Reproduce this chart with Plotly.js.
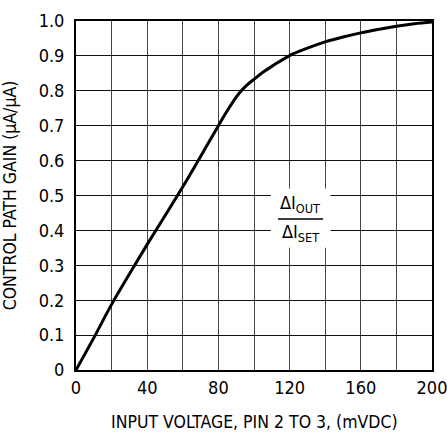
<!DOCTYPE html>
<html>
<head>
<meta charset="utf-8">
<script src="https://cdn.plot.ly/plotly-3.0.1.min.js"></script>
<style>html,body{margin:0;padding:0;background:#fff;}#chart{width:447px;height:433px;}</style>
</head>
<body>
<div id="chart"></div>
<script>
const inputVoltage = [0, 10, 20, 30, 40, 50, 60, 70, 80, 84, 88, 92, 96, 100, 105, 110, 120, 130, 140, 150, 160, 170, 180, 190, 200];
const controlGain = [0, 0.092, 0.188, 0.275, 0.36, 0.442, 0.525, 0.612, 0.70, 0.735, 0.767, 0.795, 0.816, 0.833, 0.853, 0.870, 0.901, 0.922, 0.94, 0.954, 0.966, 0.976, 0.985, 0.992, 0.997];
const xTickVals = [0, 40, 80, 120, 160, 200];
const yTickVals = [0, 0.1, 0.2, 0.3, 0.4, 0.5, 0.6, 0.7, 0.8, 0.9, 1.0];
const yTickText = ['0', '0.1', '0.2', '0.3', '0.4', '0.5', '0.6', '0.7', '0.8', '0.9', '1.0'];
const xTitle = 'INPUT VOLTAGE, PIN 2 TO 3, (mVDC)';
const yTitle = 'CONTROL PATH GAIN (µA/µA)';

const FONT = '"DejaVu Sans Condensed", "Liberation Sans Narrow", "Arial Narrow", "Liberation Sans", sans-serif';

const trace = {
  x: inputVoltage, y: controlGain, type: 'scatter', mode: 'lines',
  line: {color: '#000', width: 3, shape: 'spline', smoothing: 1},
  hoverinfo: 'skip'
};

const layout = {
  width: 447, height: 433,
  margin: {l: 76, r: 15, t: 21, b: 63},
  paper_bgcolor: '#fff', plot_bgcolor: '#fff',
  showlegend: false,
  font: {family: FONT, size: 15, color: '#000'},
  xaxis: {
    range: [0, 200], tickvals: xTickVals, ticktext: xTickVals.map(String),
    showgrid: true, gridcolor: '#444', gridwidth: 1,
    minor: {dtick: 20, showgrid: true, gridcolor: '#444', gridwidth: 1},
    showline: true, linecolor: '#000', linewidth: 2, mirror: true,
    ticks: '', zeroline: false, fixedrange: true, ticklabeloverflow: 'allow',
    tickfont: {family: FONT, size: 18}
  },
  yaxis: {
    range: [0, 1.0], tickvals: yTickVals, ticktext: yTickText,
    showgrid: true, gridcolor: '#111', gridwidth: 1,
    showline: true, linecolor: '#000', linewidth: 2, mirror: true,
    ticks: '', zeroline: false, fixedrange: true, ticklabelstandoff: 6, ticklabeloverflow: 'allow',
    tickfont: {family: FONT, size: 18},
    title: {text: yTitle, font: {family: FONT, size: 17.5}, standoff: 20}
  },
  shapes: [
    {type: 'rect', xref: 'x', yref: 'y', x0: 109.5, x1: 143, y0: 0.35, y1: 0.52,
     fillcolor: '#fff', line: {width: 0}, layer: 'above'},
    {type: 'line', xref: 'x', yref: 'y', x0: 113.5, x1: 138.8, y0: 0.433, y1: 0.433,
     line: {color: '#000', width: 1.5}, layer: 'above'}
  ],
  annotations: [
    {x: 0.5, y: 0, xref: 'paper', yref: 'paper', yanchor: 'top', xanchor: 'center', yshift: -40,
     showarrow: false, text: xTitle, font: {family: FONT, size: 17.5, color: '#000'}},
    {x: 126, y: 0.475, xref: 'x', yref: 'y', showarrow: false,
     text: 'ΔI<sub>OUT</sub>', font: {family: FONT, size: 18, color: '#000'}},
    {x: 126, y: 0.393, xref: 'x', yref: 'y', showarrow: false,
     text: 'ΔI<sub>SET</sub>', font: {family: FONT, size: 18, color: '#000'}}
  ]
};

Plotly.newPlot('chart', [trace], layout, {displayModeBar: false, staticPlot: true});
</script>
</body>
</html>
